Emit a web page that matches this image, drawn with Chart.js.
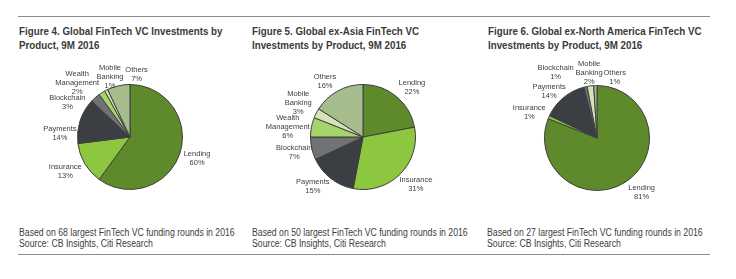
<!DOCTYPE html>
<html>
<head>
<meta charset="utf-8">
<script src="https://cdn.jsdelivr.net/npm/chart.js@4.4.0/dist/chart.umd.min.js"></script>
<style>
  body { margin: 0; background: #fff; width: 736px; height: 279px; position: relative; overflow: hidden; }
  .rule { position: absolute; left: 18px; width: 692px; height: 1px; background: #8c8c8c; }
  .title { position: absolute; font-family: "Liberation Sans", Arial, sans-serif; font-weight: bold; font-size: 11.5px; line-height: 14px; color: #3a3a3a; white-space: nowrap; transform: scaleX(0.85); transform-origin: left top; }
  .note { position: absolute; font-family: "Liberation Sans", Arial, sans-serif; font-size: 10px; line-height: 11px; color: #404040; white-space: nowrap; transform: scaleX(0.87); transform-origin: left top; }
  canvas { position: absolute; }
</style>
</head>
<body>
<div class="rule" style="top:16px"></div>
<div class="rule" style="top:254px"></div>

<div class="title" style="left:19px;top:24px">Figure 4. Global FinTech VC Investments by<br>Product, 9M 2016</div>
<div class="title" style="left:252px;top:24px">Figure 5. Global ex-Asia FinTech VC<br>Investments by Product, 9M 2016</div>
<div class="title" style="left:488px;top:24px">Figure 6. Global ex-North America FinTech VC<br>Investments by Product, 9M 2016</div>

<canvas id="fig4" width="245" height="165" style="left:0;top:55px"></canvas>
<canvas id="fig5" width="245" height="165" style="left:245px;top:55px"></canvas>
<canvas id="fig6" width="246" height="165" style="left:490px;top:55px"></canvas>

<div class="note" style="left:19px;top:227px">Based on 68 largest FinTech VC funding rounds in 2016<br>Source: CB Insights, Citi Research</div>
<div class="note" style="left:252px;top:227px">Based on 50 largest FinTech VC funding rounds in 2016<br>Source: CB Insights, Citi Research</div>
<div class="note" style="left:487px;top:227px">Based on 27 largest FinTech VC funding rounds in 2016<br>Source: CB Insights, Citi Research</div>

<script>
const products = ["Lending", "Insurance", "Payments", "Blockchain", "Wealth Management", "Mobile Banking", "Others"];
const globalShare = [60, 13, 14, 3, 2, 1, 7];
const exAsiaShare = [22, 31, 15, 7, 6, 3, 16];
const exNorthAmericaShare = [81, 1, 14, 1, 0, 2, 1];

const colors = ["#5e8a2b", "#8dc63f", "#3b3e42", "#707275", "#a6d36a", "#d3e4bb", "#a5bc8d"];

// label nudges (px) away from the default radial spot
const nudge4 = [[0, 0], [-4, -1], [-3, 18], [-16, 18], [-15, 5], [12, 3], [22, 6]];
const nudge5 = [[4, 5], [3, -2], [-7, -6], [0, 0], [-6, 3], [-2, -2], [-4, 6]];
const nudge6 = [[5, -4], [-3, 2], [-3, 8], [-26, 3], [0, 0], [1, 5], [20, 10]];

const pieLabels = {
  id: "pieLabels",
  afterDatasetsDraw(chart, args, opts) {
    const ctx = chart.ctx;
    const meta = chart.getDatasetMeta(0);
    const values = chart.data.datasets[0].data;
    ctx.save();
    ctx.font = "7.5px 'Liberation Sans', Arial, sans-serif";
    ctx.fillStyle = "#404040";
    ctx.textAlign = "center";
    ctx.textBaseline = "middle";
    meta.data.forEach((arc, i) => {
      if (!values[i]) return;
      const p = arc.getProps(["x", "y", "startAngle", "endAngle", "outerRadius"], true);
      const mid = (p.startAngle + p.endAngle) / 2;
      const d = p.outerRadius + 18;
      const n = opts.nudge[i] || [0, 0];
      const x = p.x + Math.cos(mid) * d + n[0];
      const y = p.y + Math.sin(mid) * d + n[1];
      const lines = chart.data.labels[i].split(" ").concat([values[i] + "%"]);
      const lh = 9;
      const top = y - (lines.length - 1) * lh / 2;
      lines.forEach((t, k) => ctx.fillText(t, x, top + k * lh));
    });
    ctx.restore();
  }
};

function makePie(id, values, nudge, cx, cy) {
  const el = document.getElementById(id);
  const r = 53;
  new Chart(el, {
    type: "pie",
    data: {
      labels: products,
      datasets: [{
        data: values,
        backgroundColor: colors,
        borderColor: "#3f3f3f",
        borderWidth: 1
      }]
    },
    options: {
      responsive: false,
      animation: false,
      layout: {
        padding: { left: cx - r, right: el.width - cx - r, top: cy - r, bottom: el.height - cy - r }
      },
      plugins: {
        legend: { display: false },
        tooltip: { enabled: false },
        pieLabels: { nudge: nudge }
      }
    },
    plugins: [pieLabels]
  });
}

makePie("fig4", globalShare, nudge4, 130, 82);
makePie("fig5", exAsiaShare, nudge5, 118, 82);
makePie("fig6", exNorthAmericaShare, nudge6, 107, 83);
</script>
</body>
</html>
